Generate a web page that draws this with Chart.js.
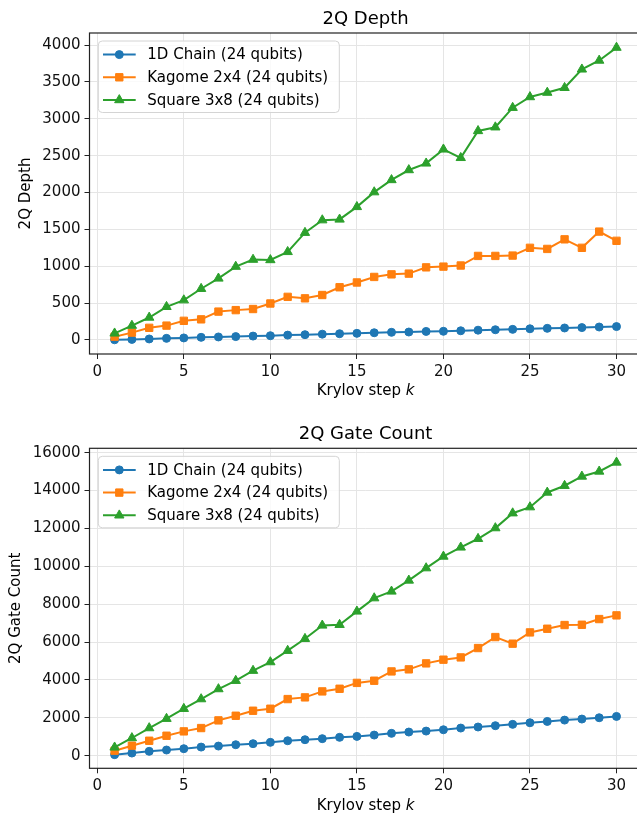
<!DOCTYPE html>
<html>
<head>
<meta charset="utf-8">
<script src="https://cdn.jsdelivr.net/npm/chart.js@4.4.1/dist/chart.umd.min.js"></script>
<style>
  html, body { margin: 0; padding: 0; background: #fff; width: 637px; height: 818px; overflow: hidden; }
  .wrap { width: 648px; height: 409px; }
  canvas { display: block; }
</style>
</head>
<body>
<div class="wrap"><canvas id="depth-chart" width="648" height="409"></canvas></div>
<div class="wrap"><canvas id="gates-chart" width="648" height="409"></canvas></div>
<script>
const steps = [1, 2, 3, 4, 5, 6, 7, 8, 9, 10, 11, 12, 13, 14, 15, 16, 17, 18, 19, 20, 21, 22, 23, 24, 25, 26, 27, 28, 29, 30];
const seriesNames = ['1D Chain (24 qubits)', 'Kagome 2x4 (24 qubits)', 'Square 3x8 (24 qubits)'];

// 2Q depth per Krylov step
const depthChain = [3, 8, 14, 22, 28, 36, 41, 46, 53, 58, 66, 72, 79, 85, 90, 98, 104, 108, 116, 118, 125, 133, 139, 144, 152, 158, 163, 168, 176, 182];
const depthKagome = [45, 100, 165, 195, 260, 280, 385, 405, 420, 495, 585, 565, 610, 715, 780, 855, 890, 900, 985, 995, 1010, 1140, 1140, 1145, 1250, 1235, 1365, 1250, 1470, 1345];
const depthSquare = [90, 195, 305, 450, 540, 695, 835, 995, 1090, 1085, 1195, 1455, 1625, 1635, 1805, 2005, 2170, 2305, 2395, 2585, 2470, 2835, 2885, 3150, 3295, 3355, 3420, 3670, 3790, 3965];

// 2Q gate count per Krylov step
const gatesChain = [55, 140, 230, 300, 370, 455, 510, 580, 635, 705, 790, 845, 900, 970, 1020, 1090, 1180, 1250, 1300, 1370, 1460, 1515, 1585, 1655, 1740, 1810, 1880, 1935, 2005, 2075];
const gatesKagome = [265, 530, 790, 1055, 1285, 1460, 1865, 2110, 2375, 2480, 2990, 3080, 3395, 3535, 3845, 3960, 4450, 4560, 4875, 5070, 5190, 5685, 6265, 5915, 6510, 6705, 6900, 6915, 7215, 7410];
const gatesSquare = [440, 935, 1460, 1955, 2480, 2990, 3520, 3960, 4490, 4945, 5545, 6175, 6880, 6915, 7620, 8320, 8675, 9255, 9905, 10520, 11000, 11455, 12020, 12805, 13125, 13900, 14255, 14745, 15010, 15485];

const xTicks = [0, 5, 10, 15, 20, 25, 30];
const depthTicks = [0, 500, 1000, 1500, 2000, 2500, 3000, 3500, 4000];
const gatesTicks = [0, 2000, 4000, 6000, 8000, 10000, 12000, 14000, 16000];

const FONT = "'DejaVu Sans', sans-serif";
const colors = ['#1f77b4', '#ff7f0e', '#2ca02c'];
const markers = [
  { style: 'circle', radius: 4 },
  { style: 'rect', radius: 5.2 },
  { style: 'triangle', radius: 5.4 }
];

// matplotlib-like frame, legend box and italic x label
const mplDecor = {
  id: 'mplDecor',
  afterDatasetsDraw(chart) {
    const { ctx, chartArea: a } = chart;
    const bx = a.left + 8.8, by = a.top + 8, bw = 241, bh = 71.5;
    ctx.save();
    ctx.beginPath();
    ctx.roundRect(bx, by, bw, bh, 4);
    ctx.fillStyle = 'rgba(255,255,255,0.8)';
    ctx.fill();
    ctx.strokeStyle = '#d4d4d4';
    ctx.lineWidth = 1;
    ctx.stroke();
    chart.data.datasets.forEach((ds, i) => {
      const y = by + 13.6 + i * 22.7;
      ctx.beginPath();
      ctx.moveTo(bx + 4.7, y);
      ctx.lineTo(bx + 37.4, y);
      ctx.strokeStyle = ds.borderColor;
      ctx.lineWidth = 2;
      ctx.stroke();
      ctx.fillStyle = ds.borderColor;
      ctx.strokeStyle = ds.borderColor;
      ctx.lineWidth = 1;
      Chart.helpers.drawPoint(ctx, { pointStyle: ds.pointStyle, radius: ds.pointRadius, rotation: 0, borderWidth: 1 }, bx + 21, y);
      ctx.fillStyle = '#000';
      ctx.font = '15px ' + FONT;
      ctx.textBaseline = 'middle';
      ctx.textAlign = 'left';
      ctx.fillText(ds.label, bx + 49, y + 1);
    });
    ctx.restore();
  },
  afterDraw(chart) {
    const { ctx, chartArea: a } = chart;
    const o = chart.options.plugins.mplDecor;
    ctx.save();
    ctx.strokeStyle = '#222';
    ctx.lineWidth = 1.2;
    ctx.strokeRect(a.left, a.top, a.right - a.left, a.bottom - a.top);
    // x label with italic k
    const cx = (a.left + a.right) / 2;
    ctx.fillStyle = '#000';
    ctx.textBaseline = 'middle';
    ctx.textAlign = 'left';
    ctx.font = '15px ' + FONT;
    const p1 = 'Krylov step ';
    const w1 = ctx.measureText(p1).width;
    ctx.font = 'italic 15px ' + FONT;
    const w2 = ctx.measureText('k').width;
    let x = cx - (w1 + w2) / 2;
    ctx.font = '15px ' + FONT;
    ctx.fillText(p1, x, o.xLabelY);
    ctx.font = 'italic 15px ' + FONT;
    ctx.fillText('k', x + w1, o.xLabelY);
    ctx.restore();
  }
};

function makeDatasets(values) {
  return values.map((vals, i) => ({
    label: seriesNames[i],
    data: steps.map((k, j) => ({ x: k, y: vals[j] })),
    borderColor: colors[i],
    backgroundColor: colors[i],
    borderWidth: 2,
    pointStyle: markers[i].style,
    pointRadius: markers[i].radius,
    pointBorderWidth: 1,
    pointBackgroundColor: colors[i],
    pointBorderColor: colors[i],
    tension: 0,
    order: 3 - i
  }));
}

function makeChart(id, title, yTitle, values, yTickVals, yMin, yMax, g) {
  const ctx = document.getElementById(id);
  const tickFont = { family: FONT, size: 15 };
  return new Chart(ctx, {
    type: 'line',
    data: { datasets: makeDatasets(values) },
    options: {
      responsive: false,
      animation: false,
      layout: { padding: { left: 0, right: 3, top: 0, bottom: 0 } },
      plugins: {
        legend: { display: false },
        tooltip: { enabled: false },
        title: {
          display: true,
          text: title,
          fullSize: false,
          color: '#000',
          font: { family: FONT, size: 18, weight: 'normal' },
          padding: g.titlePad
        },
        mplDecor: { xLabelY: g.xLabelY }
      },
      scales: {
        x: {
          type: 'linear',
          min: -0.45,
          max: 31.45,
          afterBuildTicks: s => { s.ticks = xTicks.map(v => ({ value: v })); },
          afterFit: s => { s.height = g.xHeight; s.paddingLeft = 0; s.paddingRight = 0; },
          grid: { color: '#e5e5e5', lineWidth: 1, tickColor: '#222', tickLength: 5, drawTicks: true },
          border: { display: false },
          ticks: { color: '#111', font: tickFont, padding: 4, maxRotation: 0, autoSkip: false, callback: v => String(v) }
        },
        y: {
          type: 'linear',
          min: yMin,
          max: yMax,
          afterBuildTicks: s => { s.ticks = yTickVals.map(v => ({ value: v })); },
          afterFit: s => { s.width = 89.5; s.paddingTop = 0; s.paddingBottom = 0; },
          grid: { color: '#e5e5e5', lineWidth: 1, tickColor: '#222', tickLength: 5, drawTicks: true },
          border: { display: false },
          ticks: { color: '#111', font: tickFont, padding: 4, autoSkip: false, callback: v => String(v) },
          title: {
            display: true,
            text: yTitle,
            color: '#000',
            font: { family: FONT, size: 15 },
            padding: { top: g.yTitlePad, bottom: 0 }
          }
        }
      }
    },
    plugins: [mplDecor]
  });
}

makeChart('depth-chart', '2Q Depth', '2Q Depth', [depthChain, depthKagome, depthSquare], depthTicks, -190, 4163,
  { titlePad: { top: 9, bottom: 2.4 }, xHeight: 55, xLabelY: 391, yTitlePad: 17 });
makeChart('gates-chart', '2Q Gate Count', '2Q Gate Count', [gatesChain, gatesKagome, gatesSquare], gatesTicks, -665, 16232,
  { titlePad: { top: 14.2, bottom: 3.5 }, xHeight: 49.7, xLabelY: 397, yTitlePad: 7 });
</script>
</body>
</html>
